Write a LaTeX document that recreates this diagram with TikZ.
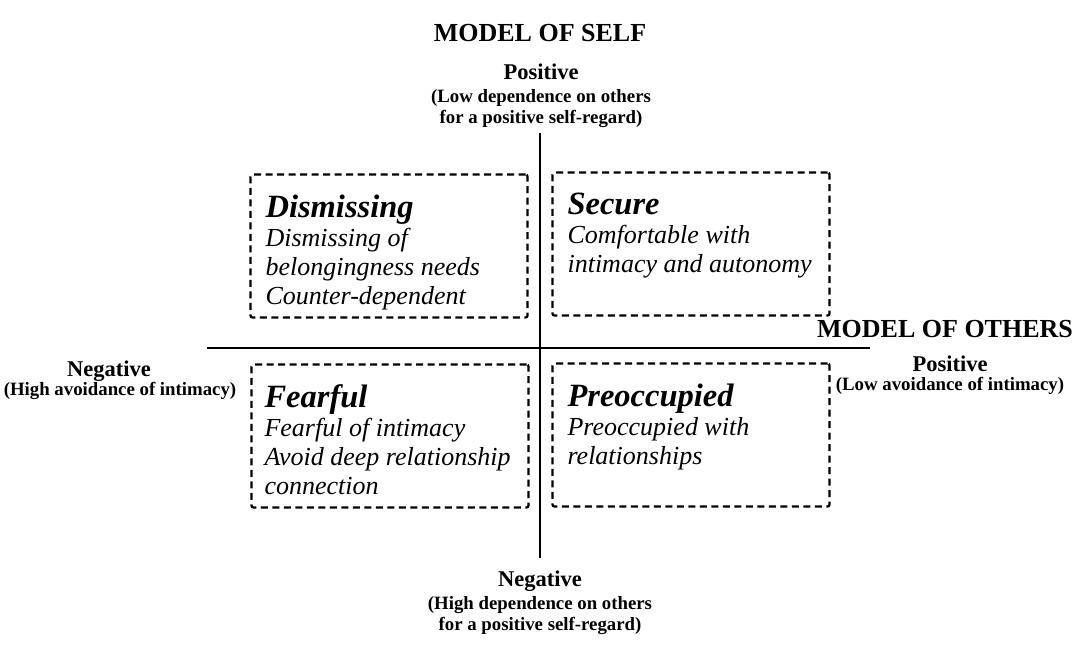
\documentclass[tikz,border=0pt]{standalone}
\usepackage{fontspec}
\setmainfont{Liberation Serif}
\usepackage{tikz}
\usetikzlibrary{positioning,calc}
\tikzset{
  qbox/.style={rectangle,draw,line width=2.3pt,dash pattern=on 7pt off 4.5pt,rounded corners=2pt,minimum width=277pt,minimum height=143pt},
  qtext/.style={align=left,inner sep=0pt,font=\fontsize{26}{29}\selectfont\itshape},
  head/.style={font=\fontsize{26}{28}\selectfont\bfseries,inner sep=0pt},
  pole/.style={font=\fontsize{22.5}{24}\selectfont\bfseries,inner sep=0pt},
  note/.style={align=center,font=\fontsize{18.8}{21}\selectfont\bfseries,inner sep=0pt},
  axis/.style={line width=2.4pt}
}
\newcommand{\qtitle}[1]{{\fontsize{32.5}{32}\selectfont\bfseries #1}}

\begin{document}
\begin{tikzpicture}[x=1pt,y=-1pt]
\useasboundingbox (0,0) rectangle (1081,646);
% axes
\coordinate (top) at (540,133);
\coordinate (bot) at (540,558);
\coordinate (lft) at (207,348);
\coordinate (rgt) at (870,348);
\draw[axis] (top) -- (bot);
\draw[axis] (lft) -- (rgt);
% four quadrants
\node[qbox] (dis) at (389,246) {};
\node[qbox] (sec) at (691,244) {};
\node[qbox] (fear) at (390,436) {};
\node[qbox] (pre) at (691,435) {};
\node[qtext, below right=21pt and 16pt of dis.north west] (distxt)
  {\qtitle{Dismissing}\\Dismissing of\\belongingness needs\\Counter-dependent};
\node[qtext, below right=21pt and 16pt of sec.north west] (sectxt)
  {\qtitle{Secure}\\Comfortable with\\intimacy and autonomy};
\node[qtext, below right=21pt and 14pt of fear.north west] (feartxt)
  {\qtitle{Fearful}\\Fearful of intimacy\\Avoid deep relationship\\connection};
\node[qtext, below right=21pt and 16pt of pre.north west] (pretxt)
  {\qtitle{Preoccupied}\\Preoccupied with\\relationships};
% model of self
\node[head] (self) at (540,33) {MODEL OF SELF};
\node[pole] (selfpos) at (541,72) {Positive};
\node[note, below=9pt of selfpos] (selfposn) {(Low dependence on others\\for a positive self-regard)};
\node[pole] (selfneg) at (540,581) {Negative};
\node[note, below=5pt of selfneg] (selfnegn) {(High dependence on others\\for a positive self-regard)};
% model of others
\node[head] (oth) at (945,329) {MODEL OF OTHERS};
\node[pole] (othpos) at (950,364) {Positive};
\node[note, below=5pt of othpos] (othposn) {(Low avoidance of intimacy)};
\node[pole] (othneg) at (109,371) {Negative};
\node[note] (othnegn) at (120,391) {(High avoidance of intimacy)};
\end{tikzpicture}
\end{document}
